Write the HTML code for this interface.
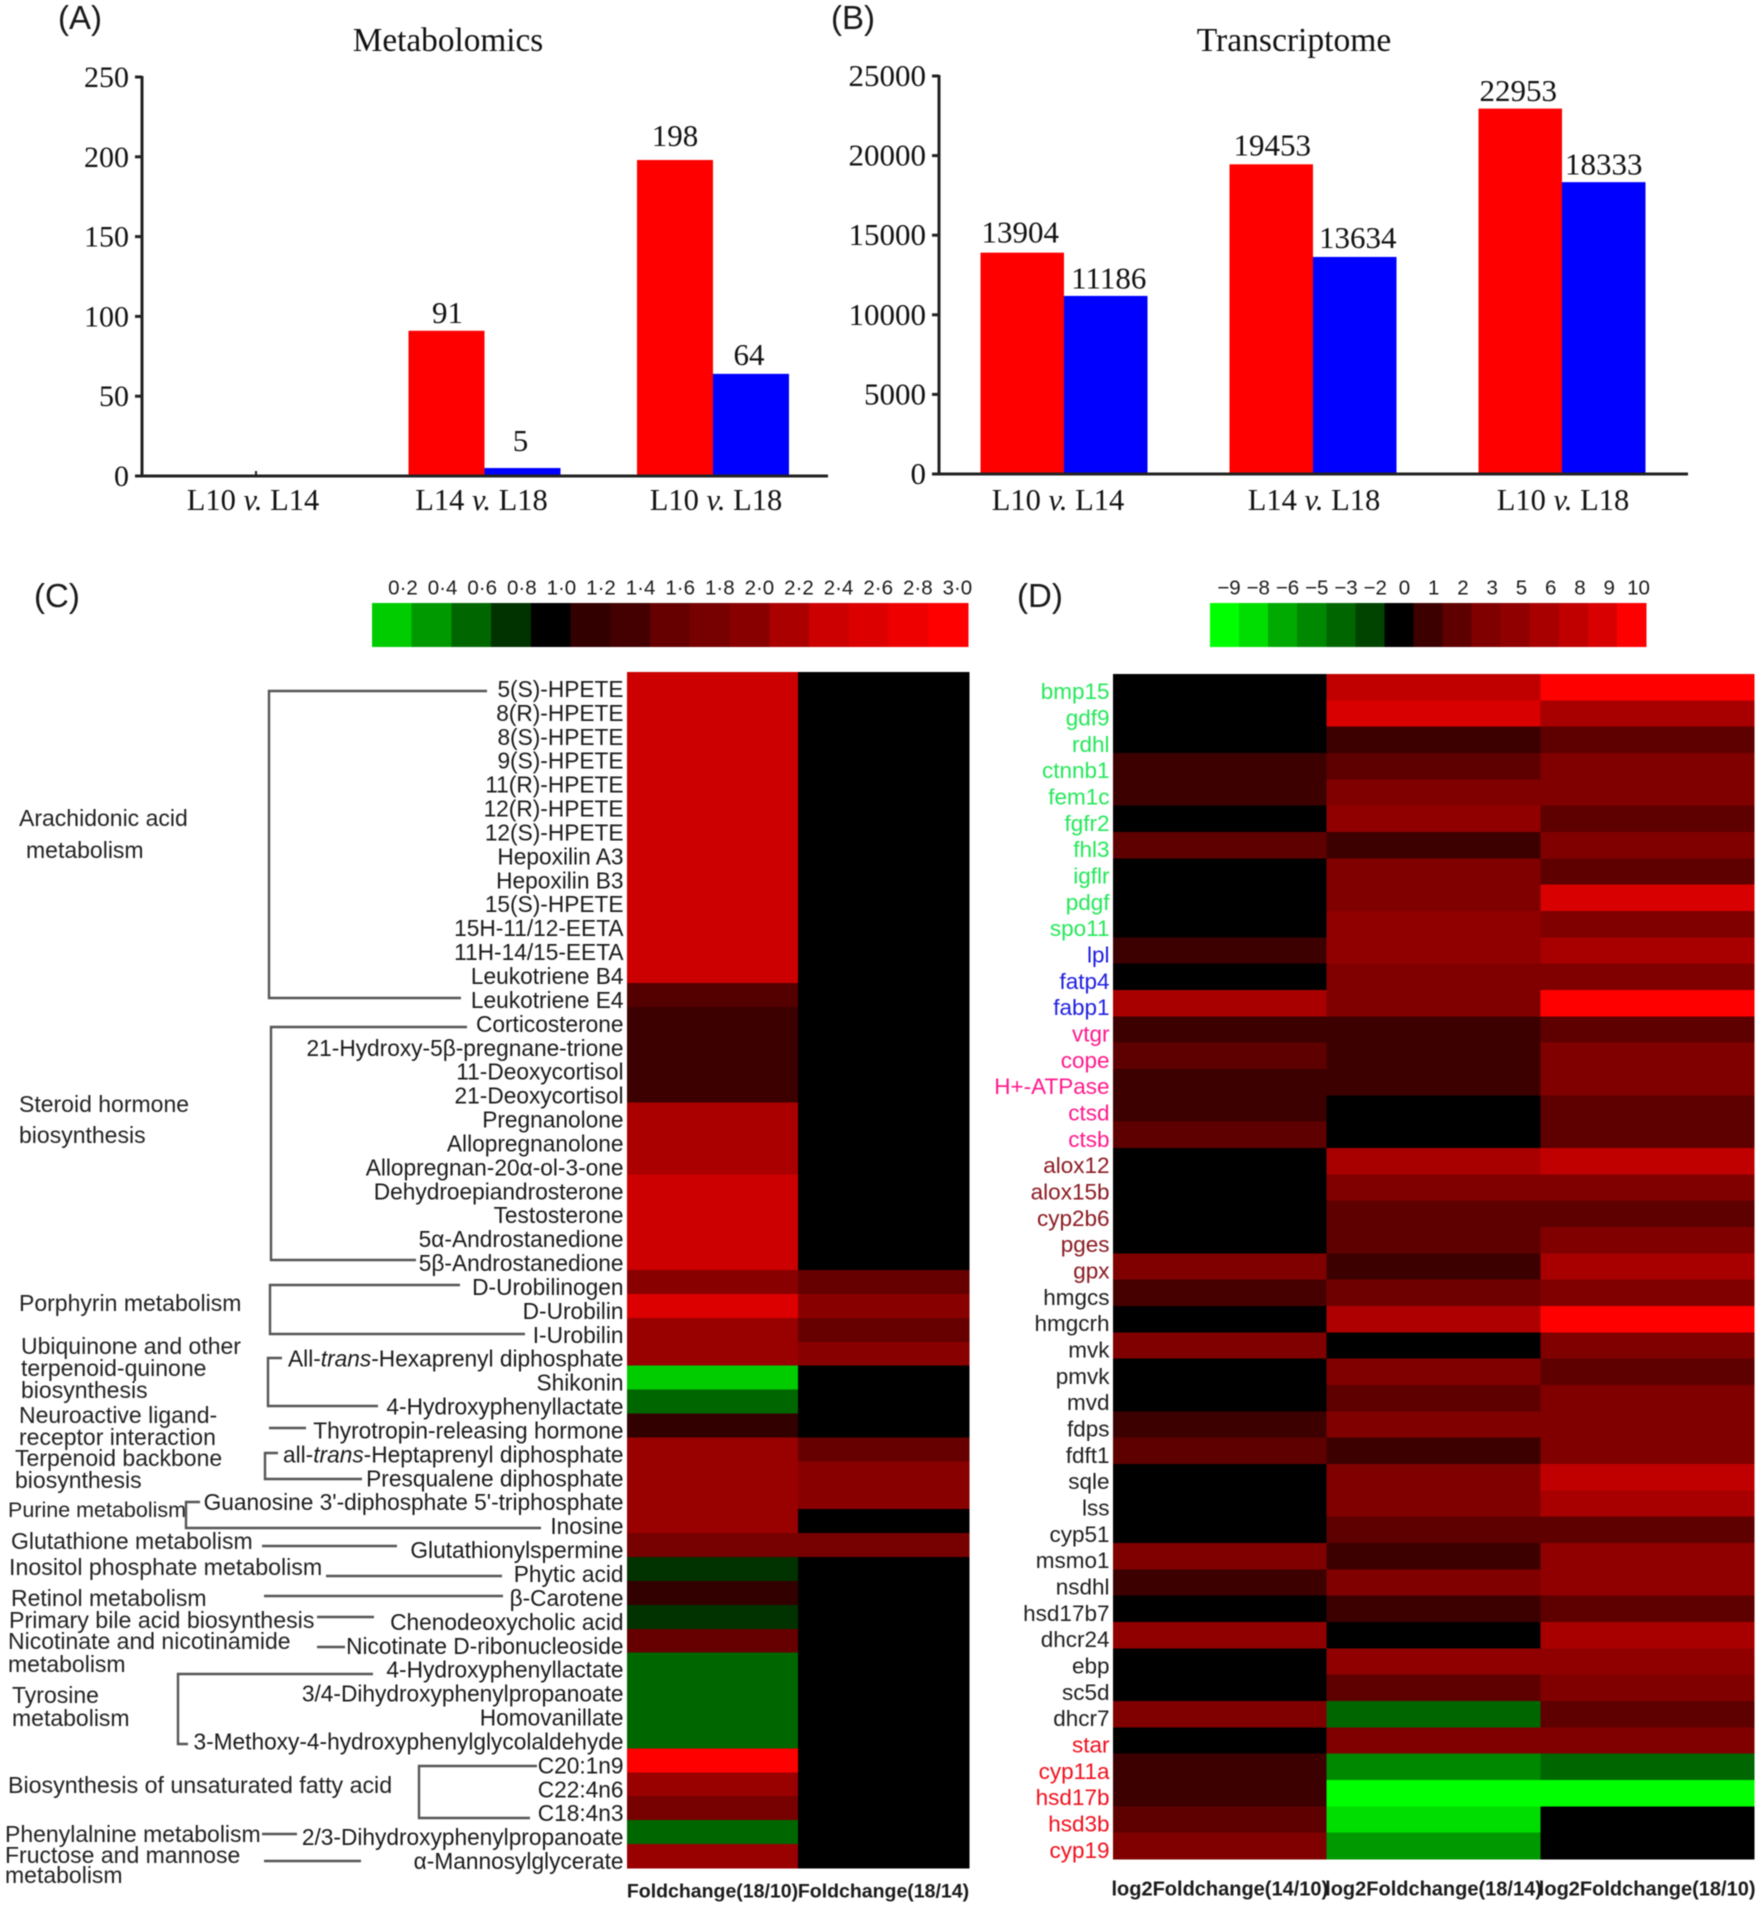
<!DOCTYPE html>
<html lang="en">
<head>
<meta charset="utf-8">
<title>Metabolomics and transcriptome comparison</title>
<style>
html,body{margin:0;padding:0;background:#fff;width:1760px;height:1908px;overflow:hidden}
svg{display:block;filter:blur(0.55px)}
.serif{font-family:"Liberation Serif",serif;fill:#111}
.sans{font-family:"Liberation Sans",sans-serif;fill:#1a1a1a}
.path{font-family:"Liberation Sans",sans-serif;font-size:23px;fill:#222}
.conn{stroke:#555;stroke-width:2.4;fill:none}
</style>
</head>
<body>
<svg id="fig" xmlns="http://www.w3.org/2000/svg" width="1760" height="1908" viewBox="0 0 1760 1908">
  <text class="sans" x="58" y="29" font-size="33">(A)</text>
  <text class="sans" x="831" y="29" font-size="33">(B)</text>
  <text class="sans" x="34" y="607" font-size="33">(C)</text>
  <text class="sans" x="1017" y="607" font-size="33">(D)</text>
  <text class="serif" x="448" y="51" font-size="33.3" text-anchor="middle">Metabolomics</text>
  <text class="serif" x="1294" y="51" font-size="33.6" text-anchor="middle">Transcriptome</text>

  <g id="pathway-labels">
    <text class="path"><tspan x="19" y="826">Arachidonic acid</tspan><tspan x="26" y="858">metabolism</tspan></text>
    <text class="path"><tspan x="19" y="1112">Steroid hormone</tspan><tspan x="19" y="1143">biosynthesis</tspan></text>
    <text class="path" x="19" y="1311">Porphyrin metabolism</text>
    <text class="path"><tspan x="21" y="1354">Ubiquinone and other</tspan><tspan x="21" y="1376">terpenoid-quinone</tspan><tspan x="21" y="1398">biosynthesis</tspan></text>
    <text class="path"><tspan x="19" y="1423">Neuroactive ligand-</tspan><tspan x="19" y="1445">receptor interaction</tspan></text>
    <text class="path"><tspan x="15" y="1466">Terpenoid backbone</tspan><tspan x="15" y="1488">biosynthesis</tspan></text>
    <text class="path" x="8" y="1517" font-size="21.5" style="font-size:21.5px">Purine metabolism</text>
    <text class="path" x="11" y="1549">Glutathione metabolism</text>
    <text class="path" x="9" y="1575" style="font-size:23.2px">Inositol phosphate metabolism</text>
    <text class="path" x="11" y="1606">Retinol metabolism</text>
    <text class="path" x="9" y="1628" style="font-size:23.2px">Primary bile acid biosynthesis</text>
    <text class="path"><tspan x="8" y="1649">Nicotinate and nicotinamide</tspan><tspan x="8" y="1672">metabolism</tspan></text>
    <text class="path"><tspan x="12" y="1703">Tyrosine</tspan><tspan x="12" y="1726">metabolism</tspan></text>
    <text class="path" x="8" y="1793" style="font-size:23.2px">Biosynthesis of unsaturated fatty acid</text>
    <text class="path" x="5" y="1842">Phenylalnine metabolism</text>
    <text class="path"><tspan x="5" y="1863">Fructose and mannose</tspan><tspan x="5" y="1883">metabolism</tspan></text>
  </g>

  <g id="connectors">
    <path class="conn" d="M487 691H269V998H461"/>
    <path class="conn" d="M467 1027H271V1260H416"/>
    <path class="conn" d="M460 1285H270V1334H525"/>
    <path class="conn" d="M282 1358H268V1406H378"/>
    <path class="conn" d="M269 1428H306"/>
    <path class="conn" d="M278 1453H265V1479H362"/>
    <path class="conn" d="M200 1502H186V1528H541"/>
    <path class="conn" d="M262 1546H397"/>
    <path class="conn" d="M326 1576H502"/>
    <path class="conn" d="M264 1596H503"/>
    <path class="conn" d="M317 1617H374"/>
    <path class="conn" d="M317 1647H345"/>
    <path class="conn" d="M373 1674H178V1744H188"/>
    <path class="conn" d="M537 1766H419V1818H530"/>
    <path class="conn" d="M262 1834H297"/>
    <path class="conn" d="M264 1861H361"/>
  </g>
</svg>

<script>
/* Bar chart data */
var barCategories = ["L10 v. L14", "L14 v. L18", "L10 v. L18"];
var metabUp = [0, 91, 198];
var metabDown = [0, 5, 64];
var metabTicks = [0, 50, 100, 150, 200, 250];
var transUp = [13904, 19453, 22953];
var transDown = [11186, 13634, 18333];
var transTicks = [0, 5000, 10000, 15000, 20000, 25000];

/* Panel C data */
var foldLegendValues = [0.2, 0.4, 0.6, 0.8, 1.0, 1.2, 1.4, 1.6, 1.8, 2.0, 2.2, 2.4, 2.6, 2.8, 3.0];
var foldLegendColors = ["#00cc00", "#009900", "#006600", "#003300", "#000000", "#330000", "#440000", "#660000", "#770000", "#880000", "#aa0000", "#cc0000", "#dd0000", "#ee0000", "#ff0000"];
var metaboliteNames = ["5(S)-HPETE", "8(R)-HPETE", "8(S)-HPETE", "9(S)-HPETE", "11(R)-HPETE", "12(R)-HPETE", "12(S)-HPETE", "Hepoxilin A3", "Hepoxilin B3", "15(S)-HPETE", "15H-11/12-EETA", "11H-14/15-EETA", "Leukotriene B4", "Leukotriene E4", "Corticosterone", "21-Hydroxy-5β-pregnane-trione", "11-Deoxycortisol", "21-Deoxycortisol", "Pregnanolone", "Allopregnanolone", "Allopregnan-20α-ol-3-one", "Dehydroepiandrosterone", "Testosterone", "5α-Androstanedione", "5β-Androstanedione", "D-Urobilinogen", "D-Urobilin", "I-Urobilin", "All-*trans*-Hexaprenyl diphosphate", "Shikonin", "4-Hydroxyphenyllactate", "Thyrotropin-releasing hormone", "all-*trans*-Heptaprenyl diphosphate", "Presqualene diphosphate", "Guanosine 3'-diphosphate 5'-triphosphate", "Inosine", "Glutathionylspermine", "Phytic acid", "β-Carotene", "Chenodeoxycholic acid", "Nicotinate D-ribonucleoside", "4-Hydroxyphenyllactate", "3/4-Dihydroxyphenylpropanoate", "Homovanillate", "3-Methoxy-4-hydroxyphenylglycolaldehyde", "C20:1n9", "C22:4n6", "C18:4n3", "2/3-Dihydroxyphenylpropanoate", "α-Mannosylglycerate"];
var fold1810 = [2.4, 2.4, 2.4, 2.4, 2.4, 2.4, 2.4, 2.4, 2.4, 2.4, 2.4, 2.4, 2.4, 1.5, 1.3, 1.3, 1.3, 1.3, 2.2, 2.2, 2.2, 2.4, 2.4, 2.4, 2.4, 2.0, 2.6, 2.1, 2.1, 0.2, 0.6, 1.2, 2.1, 2.1, 2.1, 2.1, 1.8, 0.8, 1.2, 0.8, 1.6, 0.6, 0.6, 0.6, 0.6, 3.0, 2.1, 1.8, 0.6, 2.1];
var fold1814 = [1, 1, 1, 1, 1, 1, 1, 1, 1, 1, 1, 1, 1, 1, 1, 1, 1, 1, 1, 1, 1, 1, 1, 1, 1, 1.6, 2.0, 1.6, 2.0, 1, 1, 1, 1.6, 2.0, 2.0, 1, 1.8, 1, 1, 1, 1, 1, 1, 1, 1, 1, 1, 1, 1, 1];
var foldColumns = ["Foldchange(18/10)", "Foldchange(18/14)"];

/* Panel D data */
var logLegendValues = [-9, -8, -6, -5, -3, -2, 0, 1, 2, 3, 5, 6, 8, 9, 10];
var logLegendColors = ["#00ff00", "#00dd00", "#00aa00", "#008800", "#006600", "#004400", "#000000", "#3c0000", "#5e0000", "#800000", "#900000", "#a80000", "#c00000", "#d80000", "#ff0000"];
var geneNames = ["bmp15", "gdf9", "rdhl", "ctnnb1", "fem1c", "fgfr2", "fhl3", "igflr", "pdgf", "spo11", "lpl", "fatp4", "fabp1", "vtgr", "cope", "H+-ATPase", "ctsd", "ctsb", "alox12", "alox15b", "cyp2b6", "pges", "gpx", "hmgcs", "hmgcrh", "mvk", "pmvk", "mvd", "fdps", "fdft1", "sqle", "lss", "cyp51", "msmo1", "nsdhl", "hsd17b7", "dhcr24", "ebp", "sc5d", "dhcr7", "star", "cyp11a", "hsd17b", "hsd3b", "cyp19"];
var geneGroups = ["g", "g", "g", "g", "g", "g", "g", "g", "g", "g", "b", "b", "b", "p", "p", "p", "p", "p", "m", "m", "m", "m", "m", "k", "k", "k", "k", "k", "k", "k", "k", "k", "k", "k", "k", "k", "k", "k", "k", "k", "r", "r", "r", "r", "r"];
var log1410 = [0, 0, 0, 1, 1, 0, 2, 0, 0, 0, 1, 0, 6, 1, 2, 1, 1, 2, 0, 0, 0, 0, 3, 1.3, 0, 3, 0, 0, 1, 2, 0, 0, 0, 3, 1, 0, 5, 0, 0, 3, 0, 1, 1, 2, 3];
var log1814 = [8, 9, 1, 2, 3, 5, 1, 3, 3, 5, 5, 3, 3, 1, 1, 1, 0, 0, 6, 3, 2, 2, 1, 2.5, 6.5, 0, 3, 2, 3, 1, 3, 3, 2, 1, 3, 1, 0, 5, 2, -3, 3, -5, -9, -8, -5.5];
var log1810 = [10, 6, 2, 3, 3, 2, 3, 2, 9, 3, 6, 3, 10, 2, 3, 3, 2, 2, 8, 3, 2, 3, 6, 3, 10, 3, 2, 3, 3, 3, 8, 6, 2, 5, 5, 2, 6, 5, 3, 2, 3, -3, -9, 0, 0];
var logColumns = ["log2Foldchange(14/10)", "log2Foldchange(18/14)", "log2Foldchange(18/10)"];
var geneGroupColors = {g: "#25e85a", b: "#2020e0", p: "#ff1a8c", m: "#8b1a22", k: "#1f1f1f", r: "#f0101e"};

var svg = document.getElementById('fig');
var NS = 'http://www.w3.org/2000/svg';

function mk(tag, parent, attrs, txt) {
  var e = document.createElementNS(NS, tag);
  for (var k in attrs) e.setAttribute(k, attrs[k]);
  if (txt !== undefined) e.textContent = txt;
  parent.appendChild(e);
  return e;
}
function hexToRgb(h) {
  return [parseInt(h.substr(1, 2), 16), parseInt(h.substr(3, 2), 16), parseInt(h.substr(5, 2), 16)];
}
function colorScale(values, colors) {
  return function (v) {
    if (v <= values[0]) return colors[0];
    for (var i = 1; i < values.length; i++) {
      if (v <= values[i]) {
        var t = (v - values[i - 1]) / (values[i] - values[i - 1]);
        var a = hexToRgb(colors[i - 1]), b = hexToRgb(colors[i]);
        return 'rgb(' + Math.round(a[0] + (b[0] - a[0]) * t) + ',' + Math.round(a[1] + (b[1] - a[1]) * t) + ',' + Math.round(a[2] + (b[2] - a[2]) * t) + ')';
      }
    }
    return colors[colors.length - 1];
  };
}

function drawBars(cfg) {
  var g = mk('g', svg, {});
  
  
  var maxV = cfg.ticks[cfg.ticks.length - 1];
  function y(v) { return cfg.y0 - v / maxV * (cfg.y0 - cfg.yTop); }
  function cx(i) { return cfg.c0 + cfg.step * i; }

  for (var i = 0; i < barCategories.length; i++) {
    [[cfg.up, '#ff0000', -1, 'up', cfg.nudgeUp], [cfg.down, '#0000ff', 0, 'down', cfg.nudgeDown]].forEach(function (s) {
      var v = s[0][i];
      if (v > 0) {
        var r = mk('rect', g, {x: cx(i) + s[2] * cfg.bw, y: y(v), width: cfg.bw, height: cfg.y0 - y(v), fill: s[1]});
        
        
        var t = mk('text', g, {x: cx(i) + s[2] * cfg.bw + cfg.bw / 2 + s[4][i][0], y: y(v) - 10 + s[4][i][1], 'font-size': 31, 'text-anchor': 'middle', 'class': 'serif'}, String(v));
        
        
      }
    });
    var lab = mk('text', g, {x: cx(i) + cfg.labelNudge[i], y: 510, 'font-size': 30.5, 'text-anchor': 'middle', 'class': 'serif'});
    
    
    var parts = barCategories[i].split(' ');
    mk('tspan', lab, {}, parts[0] + ' ');
    mk('tspan', lab, {'font-style': 'italic'}, parts[1]);
    mk('tspan', lab, {}, ' ' + parts[2]);
    if (i === 0 && cfg.firstTick) {
      var ft = mk('line', g, {x1: cx(i), x2: cx(i), y1: cfg.y0 - 5, y2: cfg.y0, stroke: '#222', 'stroke-width': 2});
      
      
    }
  }

  var xa = mk('line', g, {x1: cfg.x0 - 7, x2: cfg.xEnd, y1: cfg.y0, y2: cfg.y0, stroke: '#222', 'stroke-width': 3});
  
  
  var ya = mk('line', g, {x1: cfg.x0, x2: cfg.x0, y1: cfg.yTop - 1, y2: cfg.y0, stroke: '#222', 'stroke-width': 3});
  
  

  cfg.ticks.forEach(function (tv) {
    var tk = mk('line', g, {x1: cfg.x0 - 7, x2: cfg.x0, y1: y(tv), y2: y(tv), stroke: '#222', 'stroke-width': 3});
    
    
    var tl = mk('text', g, {x: cfg.x0 - 13, y: y(tv) + 10, 'font-size': cfg.tickSize, 'text-anchor': 'end', 'class': 'serif'}, String(tv));
    
    
  });
}

drawBars({name: 'metabolomics-chart', up: metabUp, down: metabDown, ticks: metabTicks, x0: 142, xEnd: 828, y0: 476, yTop: 77, c0: 256, step: 228.5, bw: 76, firstTick: true, tickSize: 30,
  labelNudge: [-3, -3, 3],
  nudgeUp: [[0, 0], [1, 2], [0, -4]],
  nudgeDown: [[0, 0], [-2, -7], [-2, 1]]});
drawBars({name: 'transcriptome-chart', up: transUp, down: transDown, ticks: transTicks, x0: 939, xEnd: 1688, y0: 474, yTop: 76, c0: 1064, step: 249, bw: 83.5, firstTick: false, tickSize: 31,
  labelNudge: [-6, 1, 1],
  nudgeUp: [[-2, 0], [1, 1], [-2, 2.5]],
  nudgeDown: [[3, 2.5], [3, 1], [0, 2.5]]});

function drawLegend(cfg) {
  var g = mk('g', svg, {});
  
  
  var w = (cfg.x1 - cfg.x0) / cfg.values.length;
  cfg.values.forEach(function (v, i) {
    var r = mk('rect', g, {x: cfg.x0 + i * w, y: 603, width: w + 0.5, height: 44, fill: cfg.colors[i], 'shape-rendering': 'crispEdges'});
    
    
    var t = mk('text', g, {x: cfg.labelX0 + i * cfg.labelStep, y: 594.5, 'font-size': 20.5, 'text-anchor': 'middle', 'class': 'sans'}, cfg.fmt(v));
    
    
  });
}
drawLegend({name: 'foldchange-legend', values: foldLegendValues, colors: foldLegendColors, x0: 372, x1: 968, labelX0: 403, labelStep: 39.6, fmt: function (v) { return v.toFixed(1).replace('.', '·'); }});
drawLegend({name: 'log2-foldchange-legend', values: logLegendValues, colors: logLegendColors, x0: 1210, x1: 1646, labelX0: 1229, labelStep: 29.25, fmt: function (v) { return String(v).replace('-', '−'); }});

function drawHeat(cfg) {
  var g = mk('g', svg, {});
  
  
  var rh = (cfg.y1 - cfg.y0) / cfg.rows.length;
  var cw = (cfg.x1 - cfg.x0) / cfg.cols.length;
  var col = colorScale(cfg.sv, cfg.sc);
  cfg.cols.forEach(function (series, c) {
    series.forEach(function (v, r) {
      var cell = mk('rect', g, {x: cfg.x0 + c * cw, y: cfg.y0 + r * rh, width: cw + 0.6, height: rh + 0.6, fill: col(v), 'shape-rendering': 'crispEdges'});
      
      
    });
    var h = mk('text', g, {x: cfg.x0 + (c + 0.5) * cw, y: cfg.headY, 'font-size': cfg.headSize, 'font-weight': 'bold', 'text-anchor': 'middle', 'class': 'sans'}, cfg.heads[c]);
    
    
  });
  cfg.rows.forEach(function (name, r) {
    var t = mk('text', g, {x: cfg.x0 - 3.5, y: cfg.y0 + (r + 0.5) * rh + cfg.labOff, 'font-size': cfg.labSize, 'text-anchor': 'end', 'class': 'sans'});
    
    
    if (cfg.labelColor) t.style.fill = cfg.labelColor(r);
    name.split('*').forEach(function (p, i) {
      mk('tspan', t, i % 2 ? {'font-style': 'italic'} : {}, p);
    });
  });
}
drawHeat({name: 'metabolite-heatmap', rows: metaboliteNames, cols: [fold1810, fold1814], heads: foldColumns, sv: foldLegendValues, sc: foldLegendColors, x0: 627, x1: 969, y0: 672, y1: 1868, headY: 1897.5, headSize: 19.5, labOff: 13, labSize: 22.7});
drawHeat({name: 'gene-heatmap', rows: geneNames, cols: [log1410, log1814, log1810], heads: logColumns, sv: logLegendValues, sc: logLegendColors, x0: 1113, x1: 1754, y0: 674, y1: 1859, headY: 1895.5, headSize: 20, labOff: 12, labSize: 22.5, labelColor: function (r) { return geneGroupColors[geneGroups[r]]; }});
</script>
</body>
</html>
